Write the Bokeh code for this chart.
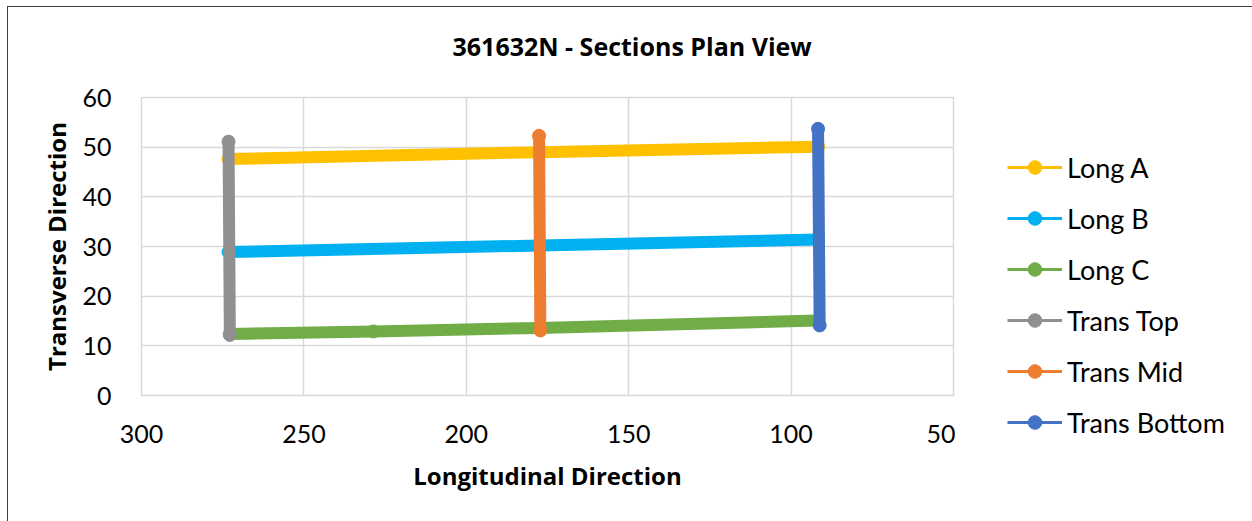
from bokeh.plotting import figure
from bokeh.layouts import row, column
from bokeh.models import Range1d, FixedTicker, Legend, LegendItem, Title
from bokeh.embed import file_html
from bokeh.resources import INLINE

# ---- data ----
long_a_x = [273.2, 177.5, 91.6]
long_a_y = [47.6, 49.0, 50.1]

long_b_x = [273.2, 177.5, 91.9]
long_b_y = [28.9, 30.2, 31.4]

long_c_x = [272.8, 228.6, 177.5, 91.9]
long_c_y = [12.4, 12.9, 13.6, 15.1]

trans_top_x = [273.2, 272.8]
trans_top_y = [51.1, 12.2]

trans_mid_x = [177.6, 177.2]
trans_mid_y = [52.3, 13.1]

trans_bot_x = [91.7, 91.2]
trans_bot_y = [53.7, 14.1]

series_names = ["Long A", "Long B", "Long C", "Trans Top", "Trans Mid", "Trans Bottom"]
series_colors = ["#FFC000", "#00B0F0", "#70AD47", "#909090", "#ED7D31", "#4472C4"]
series_x = [long_a_x, long_b_x, long_c_x, trans_top_x, trans_mid_x, trans_bot_x]
series_y = [long_a_y, long_b_y, long_c_y, trans_top_y, trans_mid_y, trans_bot_y]

x_ticks = [300, 250, 200, 150, 100, 50]
y_ticks = [0, 10, 20, 30, 40, 50, 60]

title_text = "361632N - Sections Plan View"
x_title = "Longitudinal Direction"
y_title = "Transverse Direction"

FONT = "Lato"
BFONT = "Open Sans"

# ---------------- main chart ----------------
p = figure(width=947, height=514, output_backend="svg", toolbar_location=None,
           x_range=Range1d(300, 50), y_range=Range1d(0, 60),
           min_border_left=133, min_border_right=2, min_border_top=0, min_border_bottom=126)

p.background_fill_color = "white"
p.border_fill_color = "white"
p.outline_line_color = "#d9d9d9"
p.outline_line_width = 1.5

for ax in (p.xaxis[0], p.yaxis[0]):
    ax.axis_line_color = None
    ax.major_tick_line_color = None
    ax.minor_tick_line_color = None
    ax.major_tick_out = 0
    ax.major_tick_in = 0
    ax.major_label_text_font = FONT
    ax.major_label_text_font_size = "25px"
    ax.major_label_text_color = "#000000"
    ax.axis_label_text_font = BFONT
    ax.axis_label_text_font_size = "24px"
    ax.axis_label_text_font_style = "bold"
    ax.axis_label_text_color = "#000000"

p.xaxis[0].ticker = FixedTicker(ticks=x_ticks)
p.yaxis[0].ticker = FixedTicker(ticks=y_ticks)
p.xaxis[0].major_label_standoff = 29
p.yaxis[0].major_label_standoff = 30
p.xaxis[0].axis_label = x_title
p.yaxis[0].axis_label = y_title
p.xaxis[0].axis_label_standoff = 13
p.yaxis[0].axis_label_standoff = 6

p.xgrid[0].ticker = FixedTicker(ticks=x_ticks)
p.ygrid[0].ticker = FixedTicker(ticks=y_ticks)
p.grid.grid_line_color = "#d9d9d9"
p.grid.grid_line_width = 1.5

for name, color, xs, ys in zip(series_names, series_colors, series_x, series_y):
    p.line(xs, ys, line_color=color, line_width=12, line_cap="round", line_join="round")
    p.scatter(xs, ys, size=13, fill_color=color, line_color=color)

# spacer (closest to the frame) then the real title above it
spacer = Title(text=" ", text_font_size="1px", standoff=11)
p.add_layout(spacer, "above")
title = Title(text=title_text, align="left", offset=311, vertical_align="middle", standoff=40,
              text_font=BFONT, text_font_size="25px", text_font_style="bold",
              text_color="#000000")
p.add_layout(title, "above")

# ---------------- legend panel ----------------
lg = figure(width=297, height=514, output_backend="svg", toolbar_location=None,
            x_axis_location=None, y_axis_location=None,
            min_border_left=0, min_border_right=0, min_border_top=0, min_border_bottom=0)
lg.outline_line_color = None
lg.background_fill_color = "white"
lg.border_fill_color = "white"
lg.grid.visible = False

items = []
for name, color, xs, ys in zip(series_names, series_colors, series_x, series_y):
    lr = lg.line(xs, ys, line_color=color, line_width=3, visible=False)
    sr = lg.scatter(xs, ys, size=13, fill_color=color, line_color=color, visible=False)
    items.append(LegendItem(label=name, renderers=[lr, sr]))

legend = Legend(items=items, location=(52, 82), orientation="vertical",
                glyph_width=55, glyph_height=34, label_height=34, spacing=17,
                label_standoff=5, padding=0, margin=0,
                border_line_color=None, background_fill_alpha=0,
                label_text_font=FONT, label_text_font_size="27px",
                label_text_color="#000000")
lg.add_layout(legend, "center")

layout = row(p, column(lg), styles={"margin-left": "7px", "margin-top": "6px",
                                    "border-left": "1px solid #404040",
                                    "border-top": "1px solid #404040"})

open("out.html", "w").write(file_html(layout, INLINE))
